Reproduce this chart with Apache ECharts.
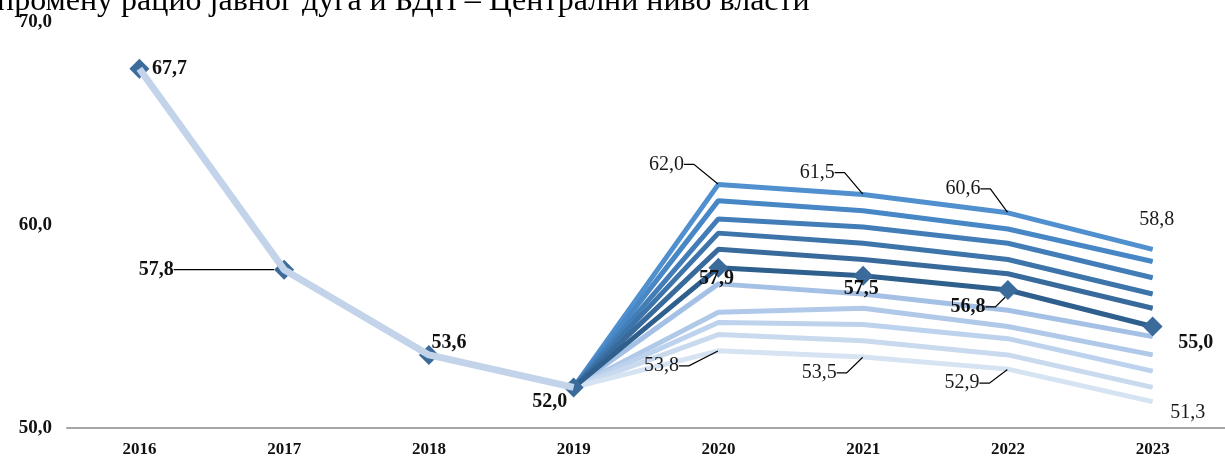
<!DOCTYPE html>
<html>
<head>
<meta charset="utf-8">
<script src="https://cdn.jsdelivr.net/npm/echarts@6/dist/echarts.min.js"></script>
<style>
  html, body { margin: 0; padding: 0; background: #fff; }
  #chart { width: 1225px; height: 463px; }
</style>
</head>
<body>
<div id="chart"></div>
<script>
const years = ["2016", "2017", "2018", "2019", "2020", "2021", "2022", "2023"];
const yTicks = { min: 50, max: 70, interval: 10 };

// realised path up to 2019, then the baseline projection
const history = [67.7, 57.8, 53.6, 52.0];
const baseline = [67.7, 57.8, 53.6, 52.0, 57.9, 57.5, 56.8, 55.0];

// fan lines, 2020-2023, from the top band down
const upper1 = [62.0, 61.5, 60.6, 58.8];
const upper2 = [61.2, 60.7, 59.8, 58.2];
const upper3 = [60.3, 59.9, 59.1, 57.4];
const upper4 = [59.6, 59.1, 58.3, 56.6];
const upper5 = [58.8, 58.3, 57.6, 55.9];
const lower1 = [57.1, 56.6, 55.8, 54.5];
const lower2 = [55.7, 55.9, 55.0, 53.6];
const lower3 = [55.2, 55.1, 54.4, 52.8];
const lower4 = [54.6, 54.3, 53.6, 52.0];
const lower5 = [53.8, 53.5, 52.9, 51.3];

const fanLines = [upper1, upper2, upper3, upper4, upper5, lower1, lower2, lower3, lower4, lower5];
const fanColors = ["#5090cf", "#4887c5", "#427db8", "#3d74aa", "#386b9c",
                   "#a4c1e5", "#b0c9e8", "#bdd2ec", "#c9daef", "#d6e3f2"];

const fmt = v => v.toFixed(1).replace(".", ",");
const serif = "Liberation Serif";

// label offsets (px) from the point
const baseOffsets = [[30, 0], [-128, 0], [20, -12], [-24, 14], [-2, 11], [-2, 13], [-40, 17], [43, 16]];
const baseLeaders = [false, true, false, false, false, false, true, false];
const topOffsets = [[-52, -20], [-46, -22], [-45, -24], [4, -30]];
const bottomOffsets = [[-57, 15], [-44, 16], [-46, 14], [35, 11]];
const topLeaders = [true, true, true, false];
const bottomLeaders = [true, true, true, false];

const fanStart = () => [null, null, null, history[history.length - 1]];

const series = [];

fanLines.forEach((vals, k) => {
  const isTop = k === 0;
  const isBottom = k === fanLines.length - 1;
  const data = fanStart().concat(vals);
  const s = {
    type: "line",
    data: data,
    symbol: "circle",
    symbolSize: 1,
    showSymbol: true,
    z: k < 5 ? 3 : 2,
    lineStyle: { color: fanColors[k], width: 5 },
    itemStyle: { color: fanColors[k] },
    emphasis: { disabled: true },
    label: { show: false },
    animation: false
  };
  if (isTop || isBottom) {
    const leaders = isTop ? topLeaders : bottomLeaders;
    const offsets = isTop ? topOffsets : bottomOffsets;
    s.data = data.map((v, i) => (i < 4 || v == null) ? v : {
      value: v,
      label: {
        show: true,
        position: "inside",
        formatter: p => fmt(p.value),
        fontFamily: serif,
        fontSize: 20,
        color: "#1a1a1a"
      },
      labelLine: { show: leaders[i - 4], length2: 10, lineStyle: { color: "#000", width: 1.2 } }
    });
    s.labelLayout = p => {
      const o = offsets[p.dataIndex - 4] || [0, 0];
      return { dx: o[0], dy: o[1] };
    };
  }
  series.push(s);
});

series.push({
  type: "line",
  data: baseline.map((v, i) => ({
    value: v,
    label: {
      show: true,
      position: "inside",
      formatter: p => fmt(p.value),
      fontFamily: serif,
      fontWeight: "bold",
      fontSize: 20,
      color: "#111"
    },
    labelLine: { show: baseLeaders[i], length2: 10, lineStyle: { color: "#000", width: 1.2 } }
  })),
  symbol: "diamond",
  symbolSize: 20,
  z: 4,
  lineStyle: { color: "#2f5f8c", width: 5 },
  itemStyle: { color: "#3b6b9a" },
  emphasis: { disabled: true },
  labelLayout: p => ({ dx: baseOffsets[p.dataIndex][0], dy: baseOffsets[p.dataIndex][1] }),
  animation: false
});

series.push({
  type: "line",
  data: history,
  symbol: "none",
  z: 5,
  lineStyle: { color: "#c3d4ea", width: 7 },
  emphasis: { disabled: true },
  animation: false
});

const chart = echarts.init(document.getElementById("chart"));
chart.setOption({
  backgroundColor: "#fff",
  animation: false,
  title: {
    text: "промену рацио јавног дуга и БДП – Централни ниво власти",
    left: -3,
    top: -14,
    padding: 0,
    textStyle: { fontFamily: serif, fontSize: 32, fontWeight: "normal", color: "#000" }
  },
  grid: { left: 67, right: -8, top: 22, bottom: 35, containLabel: false },
  xAxis: {
    type: "category",
    data: years,
    boundaryGap: true,
    axisLine: { lineStyle: { color: "#a6a6a6", width: 2 } },
    axisTick: { show: false },
    axisLabel: { fontFamily: serif, fontWeight: "bold", fontSize: 17, color: "#111", margin: 13 }
  },
  yAxis: {
    type: "value",
    min: yTicks.min,
    max: yTicks.max,
    interval: yTicks.interval,
    axisLine: { show: false },
    axisTick: { show: false },
    splitLine: { show: false },
    axisLabel: { fontFamily: serif, fontWeight: "bold", fontSize: 19, color: "#111", margin: 15, formatter: fmt }
  },
  series: series
});
</script>
</body>
</html>
